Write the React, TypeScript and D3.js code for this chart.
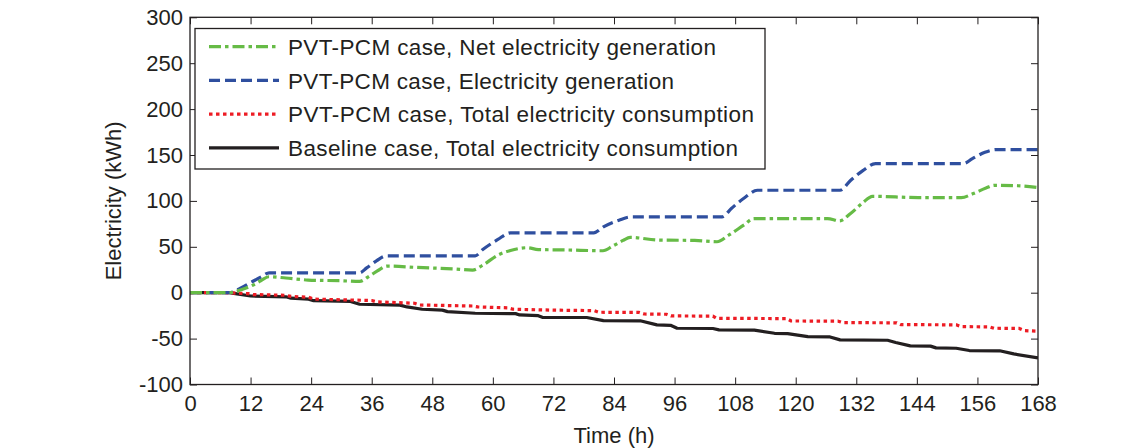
import React, { useEffect, useRef } from 'react';
import * as d3 from 'd3';

// values (hour, kWh) at the corners of each curve
const genHours = [0, 7.8, 10, 12, 14, 15.7, 33.6, 35, 37, 38.9, 56.5, 58, 61, 63.5, 80, 82, 85, 87.4, 105.4, 107.3, 110, 112.4, 128.8, 130.8, 133.3, 135.8, 153.2, 155, 157.5, 159.8, 168];
const genVals = [0, 0, 5, 11, 17, 21.7, 21.7, 27, 35, 40.2, 40.2, 47, 58, 65.2, 65.2, 72, 79, 82.6, 82.6, 92, 104, 111.6, 111.6, 122, 133, 140.6, 140.6, 146, 153, 155.9, 155.9];

const netHours = [0, 7.8, 10, 12, 14, 15.6, 19, 23.4, 30, 33.6, 35.5, 37.5, 39, 45, 52, 56, 58, 61, 63.5, 66.8, 69, 75, 81.8, 83.8, 85.8, 87.2, 93, 100, 104.4, 106.8, 109.8, 111.7, 118, 126.3, 128.7, 130.8, 133.3, 135.2, 144.3, 152.8, 155.2, 157.7, 159.4, 164, 168];
const netVals = [0, 0, 3, 7, 13, 17.4, 16, 13.8, 13, 12.3, 18, 25, 29, 27.5, 26, 24.7, 30, 41, 46, 49, 47, 46.5, 45.7, 51, 57, 60.2, 57.3, 57, 55.5, 63, 74, 80.8, 80.8, 80.8, 78.3, 86, 98, 105, 103.6, 103.6, 108, 114, 117, 116.5, 114.6];

const pcmHours = [0, 7, 11.5, 12.5, 19, 20, 23.5, 24.5, 36, 37, 44.5, 45.5, 56, 57, 63, 64, 72, 80, 81, 89, 90, 94.4, 95.3, 103.6, 104.3, 118.2, 119.1, 128.4, 129.3, 140, 140.8, 151.8, 152.8, 158.4, 159.3, 164.3, 165.3, 168];
const pcmVals = [0, 0, -1, -2, -2.8, -4, -5, -7, -8.5, -10, -11.5, -13.4, -14.5, -15.5, -16.5, -18, -19, -19.5, -21.3, -21.5, -23.2, -23.5, -25.3, -25.5, -27.9, -28.2, -30.8, -31, -32.6, -32.8, -34.8, -35, -37, -37.2, -38.7, -38.9, -41.3, -42];

const baseHours = [0, 7.8, 9, 12, 19, 20, 23.5, 24.5, 31.8, 33.6, 41.6, 43, 46, 50, 51, 56.5, 64.5, 65.3, 69, 69.8, 78.6, 81.9, 89.2, 92.5, 95.2, 96.5, 103.6, 104.8, 111.8, 115.8, 118.4, 122.4, 126.8, 128.8, 138.2, 139.8, 142.7, 146.7, 147.8, 151.8, 154.4, 160.4, 163.2, 168];
const baseVals = [0, 0, -1, -3.6, -4.5, -6, -7, -8.7, -9.5, -12.6, -13.5, -15.5, -18, -19, -20.6, -22.4, -22.8, -24.2, -25, -26.8, -27, -30.4, -30.6, -35.1, -35.5, -38.7, -39, -40.5, -40.8, -44.2, -44.5, -47.8, -48.2, -51.4, -51.8, -54.3, -57.9, -58.2, -60.1, -60.5, -63, -63.3, -66.7, -71];

const xTicks = [0, 12, 24, 36, 48, 60, 72, 84, 96, 108, 120, 132, 144, 156, 168];
const yTicks = [-100, -50, 0, 50, 100, 150, 200, 250, 300];

const legendLabels = [
  'PVT-PCM case, Net electricity generation',
  'PVT-PCM case, Electricity generation',
  'PVT-PCM case, Total electricity consumption',
  'Baseline case, Total electricity consumption',
];

const W = 1143;
const H = 448;
const FONT = '"Liberation Sans", Arial, Helvetica, sans-serif';
const INK = '#231f20';
// rendered widths of the legend labels in the reference (the original text is set a little looser)
const legendTextWidths = [428, 386, 466, 450];

export default function App() {
  const svgRef = useRef<SVGSVGElement>(null);

  useEffect(() => {
    if (!svgRef.current) return;
    const svg = d3.select(svgRef.current);
    svg.selectAll('*').remove();

    const left = 190, right = 1038, top = 17.3, bottom = 384.5;
    const x = d3.scaleLinear().domain([0, 168]).range([left, right]);
    const y = d3.scaleLinear().domain([-100, 300]).range([bottom, top]);

    const series = [
      { hours: netHours, vals: netVals, color: '#66bb46', dash: '12 4 3.5 4', curve: d3.curveMonotoneX },
      { hours: genHours, vals: genVals, color: '#2f4f9f', dash: '11 5', curve: d3.curveMonotoneX },
      { hours: pcmHours, vals: pcmVals, color: '#ed1c24', dash: '3.5 3.5', curve: d3.curveLinear },
      { hours: baseHours, vals: baseVals, color: INK, dash: null, curve: d3.curveLinear },
    ];

    // axes with inward ticks on all four sides
    const g = svg.append('g').style('font-family', FONT);
    const plain = (d: any) => String(d); // keep ASCII hyphen for negatives

    const bottomAxis = d3.axisBottom(x).tickValues(xTicks).tickSize(-7).tickPadding(11).tickFormat(plain);
    const topAxis = d3.axisTop(x).tickValues(xTicks).tickSize(-7).tickFormat(() => '');
    const leftAxis = d3.axisLeft(y).tickValues(yTicks).tickSize(-7).tickPadding(7).tickFormat(plain);
    const rightAxis = d3.axisRight(y).tickValues(yTicks).tickSize(-7).tickFormat(() => '');

    const styleAxis = (sel: any) => {
      sel.select('.domain').remove();
      sel.selectAll('line').attr('stroke', INK).attr('stroke-width', 1);
      sel.selectAll('text').attr('fill', INK).style('font-size', '22px').style('font-family', FONT);
    };

    g.append('g').attr('transform', `translate(0,${bottom})`).call(bottomAxis).call(styleAxis);
    g.append('g').attr('transform', `translate(0,${top})`).call(topAxis).call(styleAxis);
    g.append('g').attr('transform', `translate(${left},0)`).call(leftAxis).call(styleAxis);
    g.append('g').attr('transform', `translate(${right},0)`).call(rightAxis).call(styleAxis);

    // clip lines to plot area
    svg.append('clipPath').attr('id', 'plotClip')
      .append('rect').attr('x', left).attr('y', top).attr('width', right - left).attr('height', bottom - top);

    const lines = svg.append('g').attr('clip-path', 'url(#plotClip)');
    // draw baseline first so dashed lines sit on top as in the reference
    [...series].reverse().forEach(s => {
      const pts = s.hours.map((h, i) => [h, s.vals[i]] as [number, number]);
      const line = d3.line<[number, number]>().x(d => x(d[0])).y(d => y(d[1])).curve(s.curve);
      lines.append('path')
        .attr('d', line(pts))
        .attr('fill', 'none')
        .attr('stroke', s.color)
        .attr('stroke-width', 3.2)
        .attr('stroke-dasharray', s.dash)
        .attr('stroke-linejoin', 'round');
    });

    // frame
    svg.append('rect')
      .attr('x', left).attr('y', top)
      .attr('width', right - left).attr('height', bottom - top)
      .attr('fill', 'none').attr('stroke', INK).attr('stroke-width', 1.3);

    // legend
    const lg = svg.append('g').style('font-family', FONT);
    lg.append('rect')
      .attr('x', 195).attr('y', 28.5).attr('width', 570).attr('height', 140.5)
      .attr('fill', '#fff').attr('stroke', INK).attr('stroke-width', 1.3);
    series.forEach((s, i) => {
      const cy = 46.7 + i * 33.7;
      lg.append('line')
        .attr('x1', 209).attr('x2', 279).attr('y1', cy).attr('y2', cy)
        .attr('stroke', s.color).attr('stroke-width', 3.2)
        .attr('stroke-dasharray', s.dash);
      lg.append('text')
        .attr('x', 288).attr('y', cy).attr('dy', '0.36em')
        .attr('fill', INK).style('font-size', '22.5px')
        .attr('textLength', legendTextWidths[i])
        .attr('lengthAdjust', 'spacing')
        .text(legendLabels[i]);
    });

    // axis titles
    svg.append('text')
      .attr('x', (left + right) / 2).attr('y', 443)
      .attr('text-anchor', 'middle').attr('fill', INK)
      .style('font-family', FONT).style('font-size', '22px')
      .text('Time (h)');
    svg.append('text')
      .attr('transform', `translate(121,${(top + bottom) / 2}) rotate(-90)`)
      .attr('text-anchor', 'middle').attr('fill', INK)
      .style('font-family', FONT).style('font-size', '22px')
      .text('Electricity (kWh)');
  }, []);

  return (
    <svg
      ref={svgRef}
      width={W}
      height={H}
      style={{ position: 'absolute', left: 0, top: 0, background: '#fff', display: 'block' }}
    />
  );
}
